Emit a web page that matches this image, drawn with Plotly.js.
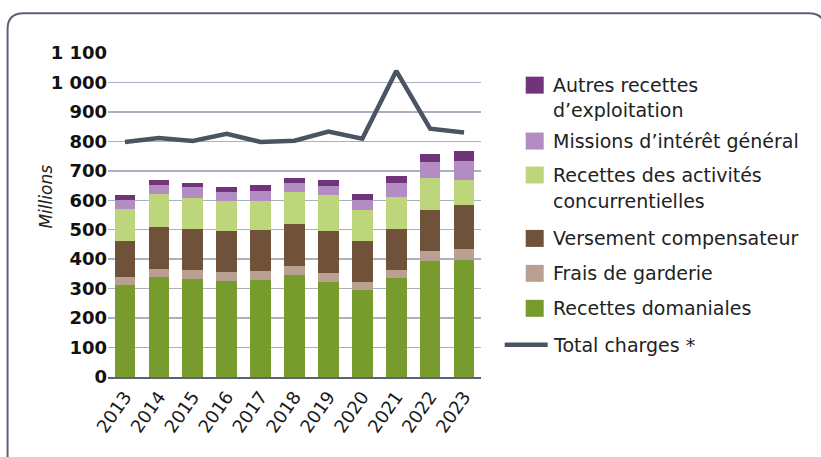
<!DOCTYPE html>
<html>
<head>
<meta charset="utf-8">
<script src="https://cdn.plot.ly/plotly-3.0.1.min.js"></script>
<style>html,body{margin:0;padding:0;background:#fff;}#chart{width:821px;height:457px;}</style>
</head>
<body>
<div id="chart"></div>
<script>
// ---- data (millions) ----
const years = ['2013','2014','2015','2016','2017','2018','2019','2020','2021','2022','2023'];
const recettesDomaniales = [314,339,332,327,331,348,323,294,337,394,398];
const fraisGarderie      = [26,28,31,29,28,29,31,27,25,33,38];
const versementComp      = [121,141,140,141,140,142,141,140,140,140,149];
const recettesActivites  = [108,113,106,101,99,108,122,107,109,110,84];
const missionsInteret    = [32,32,35,31,35,32,33,32,47,52,65];
const autresRecettes     = [17,16,14,16,18,16,18,21,26,27,34];
const totalCharges       = [798,811,801,826,798,802,833,809,1039,843,830];
const yTickVals  = [0,100,200,300,400,500,600,700,800,900,1000,1100];
const yTickText  = ['0','100','200','300','400','500','600','700','800','900','1 000','1 100'];

const seriesNames = ['Recettes domaniales','Frais de garderie','Versement compensateur',
  'Recettes des activités<br>concurrentielles','Missions d’intérêt général','Autres recettes<br>d’exploitation'];
const seriesValues = [recettesDomaniales,fraisGarderie,versementComp,recettesActivites,missionsInteret,autresRecettes];
const seriesColors = ['#779b2d','#b9a192','#6f5239','#bdd67b','#b48cc4','#6f3479'];
const lineName = 'Total charges *';
const lineColor = '#4b5462';

// ---- geometry (pixels) ----
const W=821,H=457,L=108.4,R=481.3,T=52.8,B=377.3;
const px2x = p => (p-L)/(R-L);
const px2y = p => (B-p)/(B-T);
const FONT = 'DejaVu Sans, Noto Sans, sans-serif';

const traces = seriesNames.map((n,i)=>({
  type:'bar', name:n, x:years, y:seriesValues[i],
  marker:{color:seriesColors[i], line:{width:0}}, showlegend:false, hoverinfo:'skip'
}));
traces.push({type:'scatter', mode:'lines', name:lineName, x:years, y:totalCharges,
  line:{color:lineColor, width:4.5}, showlegend:false, hoverinfo:'skip'});

// border path
function P(x,y){return px2x(x).toFixed(5)+','+px2y(y).toFixed(5);}
const border = 'M'+P(8,470)+' L'+P(8,29)+' Q'+P(8,13)+' '+P(24,13)+' L'+P(809,13)+
  ' Q'+P(825,13)+' '+P(825,29)+' L'+P(825,470);
const shapes = [{type:'path', xref:'paper', yref:'paper', path:border,
  line:{color:'#5b6371', width:2}, fillcolor:'rgba(0,0,0,0)'}];
const annotations = [];

// legend (manual)
const legendRows = [[85,110],[141],[175,201],[238.5],[273.5],[308.5]];
const legendOrder = [5,4,3,2,1,0];
const LFS = 19;
legendOrder.forEach((si,k)=>{
  const rows = legendRows[k];
  shapes.push({type:'rect', xref:'paper', yref:'paper',
    x0:px2x(526), x1:px2x(544), y0:px2y(rows[0]-8.5), y1:px2y(rows[0]+8.5),
    fillcolor:seriesColors[si], line:{width:0}});
  seriesNames[si].split('<br>').forEach((t,j)=>{
    annotations.push({xref:'paper', yref:'paper', x:px2x(551), y:px2y(rows[j]),
      xanchor:'left', yanchor:'middle', text:t, showarrow:false,
      font:{family:FONT, size:LFS, color:'#222'}});
  });
});
shapes.push({type:'line', xref:'paper', yref:'paper', x0:px2x(505), x1:px2x(548),
  y0:px2y(345), y1:px2y(345), line:{color:lineColor, width:4.5}});
annotations.push({xref:'paper', yref:'paper', x:px2x(551), y:px2y(345), xanchor:'left',
  yanchor:'middle', text:lineName, showarrow:false, font:{family:FONT, size:LFS, color:'#222'}});

// y title
annotations.push({xref:'paper', yref:'paper', x:px2x(46), y:px2y(197), xanchor:'center', yanchor:'middle',
  text:'Millions', textangle:-90, showarrow:false,
  font:{family:FONT, size:17, color:'#222', style:'italic'}});

const layout = {
  width:W, height:H, margin:{l:L, r:W-R, t:T, b:H-B, pad:0},
  paper_bgcolor:'#fff', plot_bgcolor:'#fff',
  barmode:'stack', bargap:0.39, showlegend:false,
  font:{family:FONT, color:'#1a1a1a'},
  xaxis:{type:'category', range:[-0.5,10.5], tickangle:-55, showgrid:false, zeroline:false,
    showline:true, linecolor:'#5b6371', linewidth:2, ticks:'',
    tickfont:{family:FONT, size:18, color:'#1a1a1a'}, fixedrange:true},
  yaxis:{range:[0,1100], tickvals:yTickVals, ticktext:yTickText, showgrid:true,
    gridcolor:'#aab0bd', gridwidth:1.5, zeroline:false, showline:false, ticks:'',
    tickfont:{family:FONT, size:18, color:'#111', weight:'bold'}, fixedrange:true},
  shapes:shapes, annotations:annotations
};
Plotly.newPlot('chart', traces, layout, {staticPlot:true, displayModeBar:false});
</script>
</body>
</html>
